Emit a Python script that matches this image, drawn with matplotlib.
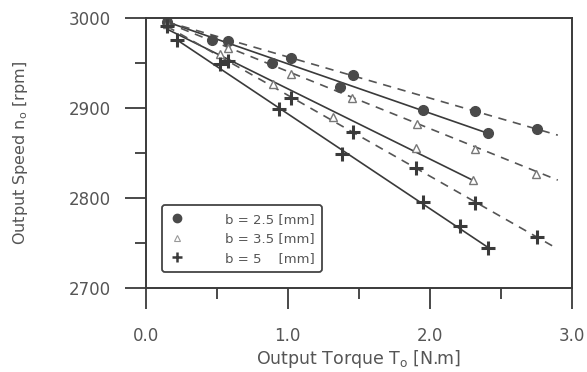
import matplotlib
matplotlib.use("Agg")
import matplotlib.pyplot as plt
from matplotlib.ticker import MultipleLocator, FixedLocator

plt.rcParams['font.family'] = ['DejaVu Sans']

# ---- data ----
circ_solid_x = [0.15, 0.47, 0.89, 1.37, 1.95, 2.41]
circ_solid_y = [2996, 2976, 2950, 2924, 2898, 2872]
circ_dash_x = [0.58, 1.02, 1.46, 2.32, 2.75]
circ_dash_y = [2975, 2956, 2937, 2897, 2877]

tri_solid_x = [0.52, 0.895, 1.316, 1.902, 2.304]
tri_solid_y = [2960, 2927, 2890, 2856, 2820]
tri_dash_x = [0.15, 0.58, 1.025, 1.455, 1.906, 2.318, 2.748]
tri_dash_y = [2994, 2967, 2938, 2911, 2882, 2855, 2827]

cross_solid_x = [0.22, 0.52, 0.94, 1.38, 1.95, 2.21, 2.41]
cross_solid_y = [2976, 2949, 2899, 2849, 2796, 2769, 2745]
cross_dash_x = [0.15, 0.58, 1.02, 1.46, 1.90, 2.32, 2.75]
cross_dash_y = [2991, 2952, 2911, 2873, 2834, 2795, 2757]

# fitted lines (endpoints)
circ_sline_x, circ_sline_y = [0.15, 2.41], [2996, 2872]
circ_dline_x, circ_dline_y = [0.15, 2.90], [2996, 2870]
tri_sline_x, tri_sline_y = [0.15, 2.30], [2988, 2820]
tri_dline_x, tri_dline_y = [0.15, 2.90], [2995, 2820]
cross_sline_x, cross_sline_y = [0.22, 2.41], [2976, 2745]
cross_dline_x, cross_dline_y = [0.15, 2.86], [2991, 2747]

labels = ["b = 2.5 [mm]", "b = 3.5 [mm]", "b = 5    [mm]"]
xtick_vals = [0, 1, 2, 3]
xtick_labels = ["0.0", "1.0", "2.0", "3.0"]
ytick_vals = [2700, 2800, 2900, 3000]

# ---- figure ----
fig = plt.figure(figsize=(5.87, 3.72), dpi=100)
ax = fig.add_axes([0.2482, 0.2258, 0.7263, 0.725])

lc = '#3a3a3a'
lw = 1.2
dash = (0, (5, 4))
for xs, ys in [(circ_sline_x, circ_sline_y), (tri_sline_x, tri_sline_y), (cross_sline_x, cross_sline_y)]:
    ax.plot(xs, ys, color=lc, lw=lw, solid_capstyle='butt')
for xs, ys in [(circ_dline_x, circ_dline_y), (tri_dline_x, tri_dline_y), (cross_dline_x, cross_dline_y)]:
    ax.plot(xs, ys, color='#555555', lw=lw, linestyle=dash)

circ_kw = dict(marker='o', ms=7, color='#4a4a4a', linestyle='none')
tri_kw = dict(marker='^', ms=6, mfc='white', mec='#777777', mew=1.0, linestyle='none')
cross_kw = dict(marker='+', ms=10, mew=2.2, color='#3a3a3a', linestyle='none')

ax.plot(circ_solid_x, circ_solid_y, **circ_kw)
ax.plot(circ_dash_x, circ_dash_y, **circ_kw)
ax.plot(tri_solid_x, tri_solid_y, **tri_kw)
ax.plot(tri_dash_x, tri_dash_y, **tri_kw)
ax.plot(cross_solid_x, cross_solid_y, **cross_kw)
ax.plot(cross_dash_x, cross_dash_y, **cross_kw)

ax.set_xlim(0, 3)
ax.set_ylim(2700, 3000)
ax.xaxis.set_major_locator(FixedLocator(xtick_vals))
ax.set_xticklabels(xtick_labels)
ax.xaxis.set_minor_locator(MultipleLocator(0.5))
ax.yaxis.set_major_locator(FixedLocator(ytick_vals))
ax.yaxis.set_minor_locator(MultipleLocator(50))

tc = '#555555'
ax.tick_params(which='major', direction='out', length=15, width=1.3, color=lc,
               labelsize=12, labelcolor=tc)
ax.tick_params(which='minor', direction='out', length=8, width=1.3, color=lc)
ax.tick_params(axis='x', which='major', pad=13)
ax.tick_params(axis='y', which='major', pad=10)
for s in ax.spines.values():
    s.set_color(lc)
    s.set_linewidth(1.4)

ax.set_xlabel("Output Torque T$_\\mathregular{o}$ [N.m]", fontsize=12.5, color=tc, labelpad=2)
ax.set_ylabel("Output Speed n$_\\mathregular{o}$ [rpm]", fontsize=11.5, color=tc, labelpad=28)

h1 = ax.plot([], [], marker='o', ms=6, color='#4a4a4a', linestyle='none')[0]
h2 = ax.plot([], [], marker='^', ms=4.5, mfc='white', mec='#999999', mew=0.8, linestyle='none')[0]
h3 = ax.plot([], [], marker='+', ms=7, mew=1.8, color='#3a3a3a', linestyle='none')[0]
leg = ax.legend([h1, h2, h3], labels, loc='lower left', bbox_to_anchor=(0.038, 0.059),
                borderaxespad=0, fontsize=9.5, handletextpad=3.0, handlelength=1.2,
                labelspacing=0.5, borderpad=0.55, fancybox=True, frameon=True,
                labelcolor=tc)
fr = leg.get_frame()
fr.set_edgecolor('#444444')
fr.set_linewidth(1.3)
fr.set_alpha(1)

fig.savefig("out.png", dpi=100)
